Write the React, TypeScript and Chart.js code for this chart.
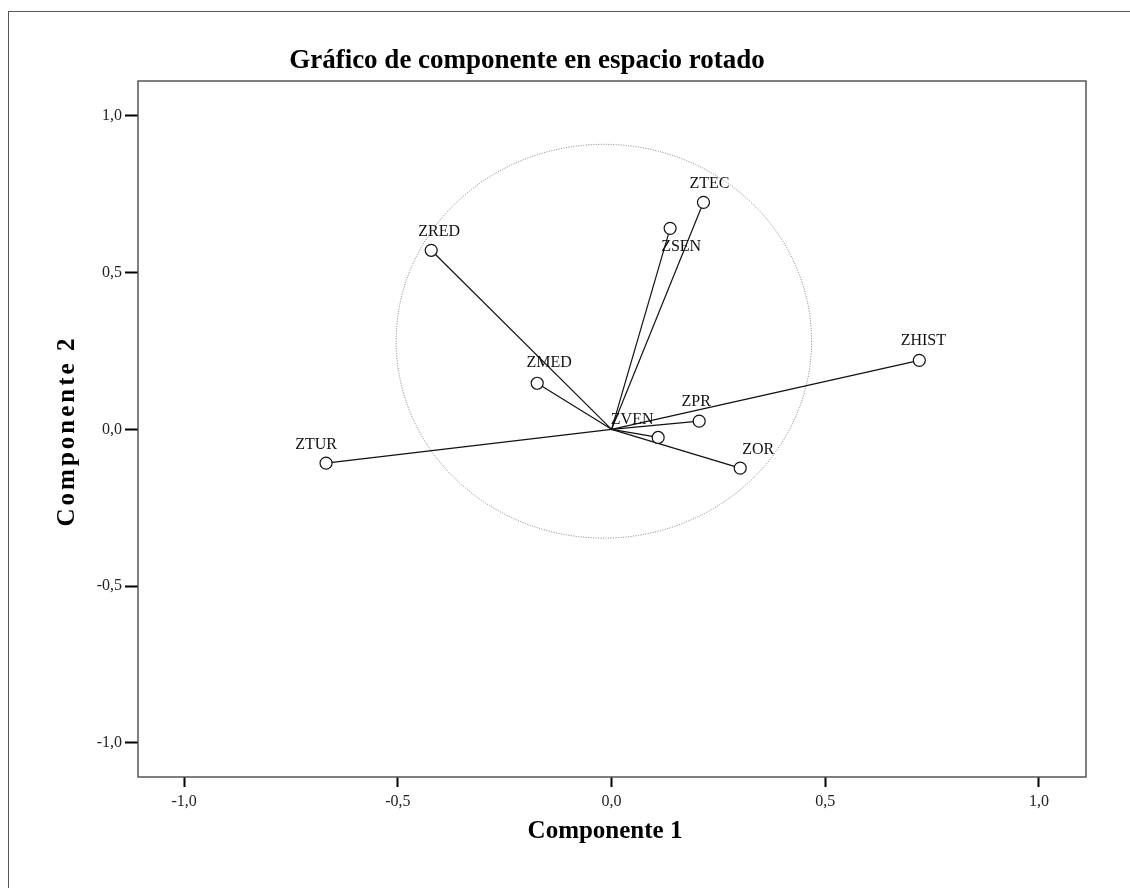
import React, { useEffect, useRef } from "react";
import { Chart, registerables } from "chart.js";

Chart.register(...registerables);

const variables = ["ZTEC", "ZSEN", "ZRED", "ZHIST", "ZMED", "ZPR", "ZVEN", "ZOR", "ZTUR"];
const component1 = [0.215, 0.137, -0.422, 0.72, -0.174, 0.205, 0.109, 0.301, -0.668];
const component2 = [0.724, 0.641, 0.571, 0.22, 0.147, 0.026, -0.026, -0.124, -0.108];
const tickValues = [-1, -0.5, 0, 0.5, 1];

const titleText = "Gráfico de componente en espacio rotado";
const xTitle = "Componente 1";
const yTitle = "Componente 2";

// reference ellipse (data units)
const circleCenter = { x: -0.018, y: 0.281 };
const circleRadius = { x: 0.486, y: 0.628 };

// label offsets in pixels (style)
const labelOffsets: Record<string, [number, number]> = {
  ZTEC: [6, -19],
  ZSEN: [11, 18],
  ZRED: [8, -19],
  ZHIST: [4, -20],
  ZMED: [12, -20],
  ZPR: [-3, -19],
  ZVEN: [-26, -18],
  ZOR: [18, -18],
  ZTUR: [-10, -18],
};

const SERIF = '"Liberation Serif", "DejaVu Serif", serif';

const fmt = (v: number) => v.toFixed(1).replace(".", ",");

const decorPlugin = {
  id: "decor",
  beforeDatasetsDraw(chart: any) {
    const { ctx, scales } = chart;
    const xs = scales.x;
    const ys = scales.y;
    ctx.save();
    const cx = xs.getPixelForValue(circleCenter.x);
    const cy = ys.getPixelForValue(circleCenter.y);
    const rx = Math.abs(xs.getPixelForValue(circleCenter.x + circleRadius.x) - cx);
    const ry = Math.abs(ys.getPixelForValue(circleCenter.y + circleRadius.y) - cy);
    ctx.beginPath();
    ctx.setLineDash([1, 1.5]);
    ctx.strokeStyle = "#7a7a7a";
    ctx.lineWidth = 1;
    ctx.ellipse(cx, cy, rx, ry, 0, 0, Math.PI * 2);
    ctx.stroke();
    ctx.setLineDash([]);
    const ox = xs.getPixelForValue(0);
    const oy = ys.getPixelForValue(0);
    ctx.strokeStyle = "#111";
    ctx.lineWidth = 1.2;
    for (let i = 0; i < variables.length; i++) {
      ctx.beginPath();
      ctx.moveTo(ox, oy);
      ctx.lineTo(xs.getPixelForValue(component1[i]), ys.getPixelForValue(component2[i]));
      ctx.stroke();
    }
    ctx.restore();
  },
  afterDatasetsDraw(chart: any) {
    const { ctx, scales } = chart;
    const xs = scales.x;
    const ys = scales.y;
    ctx.save();
    ctx.font = `16px ${SERIF}`;
    ctx.fillStyle = "#111";
    ctx.textAlign = "center";
    ctx.textBaseline = "middle";
    for (let i = 0; i < variables.length; i++) {
      const off = labelOffsets[variables[i]] || [0, -18];
      const px = xs.getPixelForValue(component1[i]);
      const py = ys.getPixelForValue(component2[i]);
      ctx.fillText(variables[i], px + off[0], py + off[1]);
    }
    ctx.restore();
  },
  afterDraw(chart: any) {
    const { ctx, chartArea } = chart;
    ctx.save();
    ctx.strokeStyle = "#555";
    ctx.lineWidth = 1.5;
    ctx.strokeRect(chartArea.left, chartArea.top, chartArea.right - chartArea.left, chartArea.bottom - chartArea.top);
    ctx.lineWidth = 1;
    ctx.strokeStyle = "#555";
    ctx.strokeRect(8.5, 11.5, 3000, 3000);
    ctx.fillStyle = "#000";
    ctx.font = `bold 27px ${SERIF}`;
    ctx.textAlign = "center";
    ctx.textBaseline = "alphabetic";
    ctx.fillText(titleText, 527, 68);
    ctx.font = `bold 25px ${SERIF}`;
    ctx.fillText(xTitle, 605, 838);
    ctx.translate(74, 431);
    ctx.rotate(-Math.PI / 2);
    try {
      (ctx as any).letterSpacing = "3px";
    } catch (e) {}
    ctx.fillText(yTitle, 0, 0);
    ctx.restore();
  },
};

export default function App() {
  const ref = useRef<HTMLCanvasElement | null>(null);
  useEffect(() => {
    if (!ref.current) return;
    const chart = new Chart(ref.current, {
      type: "scatter",
      data: {
        datasets: [
          {
            label: "Componentes",
            data: variables.map((_, i) => ({ x: component1[i], y: component2[i] })),
            pointStyle: "circle",
            pointRadius: 6,
            pointBorderWidth: 1.2,
            borderColor: "#111",
            backgroundColor: "#fff",
            pointHoverRadius: 6,
          },
        ],
      },
      options: {
        animation: false,
        responsive: false,
        layout: { padding: { left: 0, top: 81, right: 44, bottom: 0 } },
        plugins: { legend: { display: false }, title: { display: false }, tooltip: { enabled: false } },
        scales: {
          x: {
            type: "linear",
            min: -1.108,
            max: 1.11,
            afterBuildTicks: (s: any) => {
              s.ticks = tickValues.map((v) => ({ value: v }));
            },
            afterFit: (s: any) => {
              s.height = 111;
            },
            grid: { drawOnChartArea: false, drawTicks: true, tickLength: 10, tickWidth: 2, tickColor: "#000" },
            border: { display: false },
            ticks: {
              padding: 5,
              color: "#222",
              font: { family: SERIF, size: 16 },
              callback: (v: any) => fmt(Number(v)),
              maxRotation: 0,
              autoSkip: false,
            },
          },
          y: {
            type: "linear",
            min: -1.109,
            max: 1.111,
            afterBuildTicks: (s: any) => {
              s.ticks = tickValues.map((v) => ({ value: v }));
            },
            afterFit: (s: any) => {
              s.width = 138;
            },
            grid: { drawOnChartArea: false, drawTicks: true, tickLength: 13, tickWidth: 2, tickColor: "#000" },
            border: { display: false },
            ticks: {
              padding: 3,
              color: "#222",
              font: { family: SERIF, size: 16 },
              callback: (v: any) => fmt(Number(v)),
              autoSkip: false,
            },
          },
        },
      },
      plugins: [decorPlugin],
    });
    return () => chart.destroy();
  }, []);
  return (
    <canvas
      ref={ref}
      width={1130}
      height={888}
      style={{ position: "absolute", left: 0, top: 0, width: 1130, height: 888, display: "block" }}
    />
  );
}
